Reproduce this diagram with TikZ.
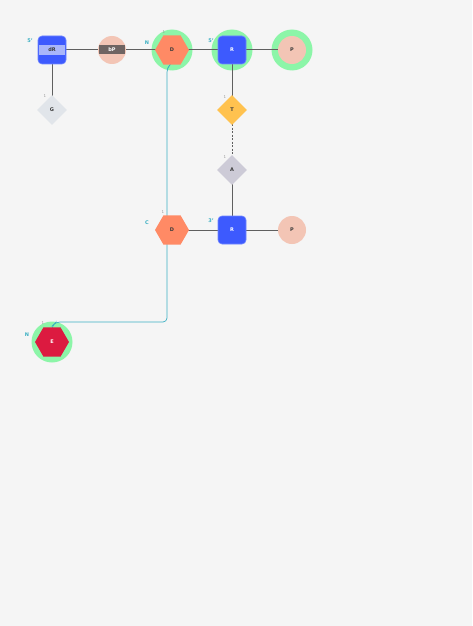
\documentclass[tikz,border=0pt]{standalone}
\usepackage{fontspec}
\setmainfont{DejaVu Sans}
\usetikzlibrary{shapes.geometric}
\definecolor{bg}{HTML}{F5F5F5}
\definecolor{halo}{HTML}{8CF5A8}
\definecolor{hexor}{HTML}{FF8A65}
\definecolor{bluesq}{HTML}{3D5AFE}
\definecolor{bluebd}{HTML}{6F86FF}
\definecolor{band}{HTML}{A9B6FA}
\definecolor{pinkc}{HTML}{F3C5B5}
\definecolor{bpband}{HTML}{6F6462}
\definecolor{crim}{HTML}{DC1A40}
\definecolor{yel}{HTML}{FFC24F}
\definecolor{gdia}{HTML}{E1E5EA}
\definecolor{adia}{HTML}{CDCBD7}
\definecolor{tealc}{HTML}{3AAFC2}
\definecolor{lineg}{HTML}{5F5F5F}
\definecolor{oneg}{HTML}{9A9A9A}
\definecolor{txt}{HTML}{3A3A3A}
\tikzset{
  halo/.style={circle, fill=halo, minimum size=41pt, inner sep=0pt},
  hexa/.style={regular polygon, regular polygon sides=6, minimum size=34pt, inner sep=0pt, fill=hexor, text=txt},
  rsq/.style={rounded corners=4pt, minimum size=28pt, inner sep=0pt, fill=bluesq, draw=bluebd, line width=0.6pt, text=white},
  dia/.style={diamond, minimum size=30pt, inner sep=0pt, text=txt},
  pc/.style={circle, minimum size=28pt, inner sep=0pt, fill=pinkc, text=txt},
  conn/.style={draw=lineg, line width=1pt},
  tconn/.style={draw=tealc, line width=0.7pt},
  lab/.style={text=tealc, inner sep=0pt},
  one/.style={text=oneg, inner sep=0pt, font=\fontsize{4}{5}\selectfont},
}
\begin{document}
\begin{tikzpicture}[x=1pt,y=-1pt, font=\fontsize{5}{6}\selectfont\bfseries]
\useasboundingbox[fill=bg] (0,0) rectangle (472,626);
% halos
\node[halo] (hD) at (172,50) {};
\node[halo] (hR) at (232,50) {};
\node[halo] (hP) at (292,50) {};
\node[halo] (hE) at (52,342) {};
% anchors for teal connector
\coordinate (c1) at (172,63);
\coordinate (c2) at (167,68);
\coordinate (c3) at (167,322);
\coordinate (c4) at (56,322);
\coordinate (c5) at (52,326);
% connectors
\path[conn] (52,50) coordinate (dRc) -- (112,50) coordinate (bPc);
\path[conn] (bPc) -- (hD.center);
\path[conn] (hD.center) -- (hR.center);
\path[conn] (hR.center) -- (hP.center);
\path[conn] (dRc) -- (52,110) coordinate (Gc);
\path[conn] (hR.center) -- (232,110) coordinate (Tc);
\path[conn, dashed, dash pattern=on 2pt off 1.5pt] (Tc) -- (232,170) coordinate (Ac);
\path[conn] (Ac) -- (232,230) coordinate (Rbc);
\path[conn] (172,230) coordinate (Dbc) -- (Rbc);
\path[conn] (Rbc) -- (292,230) coordinate (Pbc);
\draw[tconn, rounded corners=4pt] (hD.center) -- (c1) -- (c2) -- (c3) -- (c4) -- (c5) -- (hE.center);
% shapes
\node[rsq] (dR) at (dRc) {};
\node[fill=band, minimum width=26pt, minimum height=10pt, inner sep=0pt, text=txt] (dRb) at (dRc) {dR};
\node[pc] (bP) at (bPc) {};
\node[fill=bpband, minimum width=26pt, minimum height=9pt, inner sep=0pt, text=white] (bPb) at (bPc) {bP};
\node[hexa] (Dt) at (hD.center) {D};
\node[rsq] (Rt) at (hR.center) {R};
\node[pc] (Pt) at (hP.center) {P};
\node[dia, fill=gdia] (G) at (Gc) {G};
\node[dia, fill=yel] (T) at (Tc) {T};
\node[dia, fill=adia] (A) at (Ac) {A};
\node[hexa] (Db) at (Dbc) {D};
\node[rsq] (Rb) at (Rbc) {R};
\node[pc] (Pb) at (Pbc) {P};
\node[hexa, fill=crim, text=white] (E) at (hE.center) {E};
% labels
\node[lab] (l5a) at (30,41) {5'};
\node[lab] (lNa) at (147,43) {N};
\node[lab] (l5b) at (211,41) {5'};
\node[lab] (lC) at (147,223) {C};
\node[lab] (l3) at (211,221) {3'};
\node[lab] (lNb) at (27,335) {N};
\node[one] (o1) at (45,96) {1};
\node[one] (o2) at (164,32) {1};
\node[one] (o3) at (225,97) {1};
\node[one] (o4) at (225,157) {1};
\node[one] (o5) at (163,212) {1};
\node[one] (o6) at (43,323) {1};
\end{tikzpicture}
\end{document}
